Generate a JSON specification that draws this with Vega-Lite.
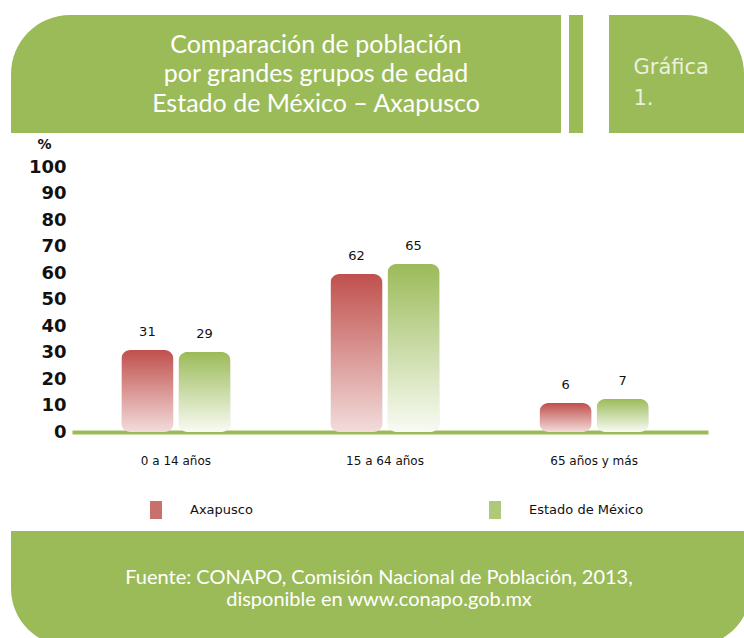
{
  "$schema": "https://vega.github.io/schema/vega-lite/v6.json",
  "padding": {"left": 11, "top": 15, "right": 0, "bottom": 0},
  "background": "white",
  "config": {"view": {"stroke": null}},
  "datasets": {
    "grupos": [
      {"grupo": "0 a 14 años", "serie": "Axapusco", "valor": 31, "barra": 30.9},
      {"grupo": "0 a 14 años", "serie": "Estado de México", "valor": 29, "barra": 30.2},
      {"grupo": "15 a 64 años", "serie": "Axapusco", "valor": 62, "barra": 59.6},
      {"grupo": "15 a 64 años", "serie": "Estado de México", "valor": 65, "barra": 63.4},
      {"grupo": "65 años y más", "serie": "Axapusco", "valor": 6, "barra": 10.9},
      {"grupo": "65 años y más", "serie": "Estado de México", "valor": 7, "barra": 12.5}
    ],
    "encabezado": [
      {"linea": 1, "texto": "Comparación de población"},
      {"linea": 2, "texto": "por grandes grupos de edad"},
      {"linea": 3, "texto": "Estado de México – Axapusco"}
    ],
    "grafica": [
      {"linea": 1, "texto": "Gráfica"},
      {"linea": 2, "texto": "1."}
    ],
    "fuente": [
      {"linea": 1, "texto": "Fuente: CONAPO, Comisión Nacional de Población, 2013,"},
      {"linea": 2, "texto": "disponible en www.conapo.gob.mx"}
    ],
    "panel": [{"panel": 1}]
  },
  "resolve": {"scale": {"color": "independent"}, "legend": {"color": "independent"}},
  "spacing": 12,
  "vconcat": [
    {
      "spacing": 4,
      "resolve": {"scale": {"color": "independent"}, "legend": {"color": "independent"}},
      "vconcat": [
        {
          "spacing": 26,
          "hconcat": [
            {
              "spacing": 8,
              "hconcat": [
                {
                  "width": 550,
                  "height": 118,
                  "layer": [
                    {"data": {"name": "panel"}, "mark": {"type": "rect", "color": "#9BBB59", "cornerRadiusTopLeft": 105}},
                    {
                      "data": {"name": "encabezado"},
                      "mark": {"type": "text", "color": "white", "font": "Lato", "fontSize": 25, "dx": 30},
                      "encoding": {
                        "y": {"field": "linea", "type": "ordinal", "axis": null, "scale": {"type": "point", "padding": 1}},
                        "text": {"field": "texto"}
                      }
                    }
                  ]
                },
                {
                  "width": 14,
                  "height": 118,
                  "data": {"name": "panel"},
                  "mark": {"type": "rect", "color": "#9BBB59"}
                }
              ]
            },
            {
              "width": 135,
              "height": 118,
              "layer": [
                {"data": {"name": "panel"}, "mark": {"type": "rect", "color": "#9BBB59", "cornerRadiusTopRight": 80}},
                {
                  "data": {"name": "grafica"},
                  "mark": {"type": "text", "color": "#EAF0DE", "font": "DejaVu Sans", "fontSize": 21, "align": "left", "dx": -43, "dy": 2},
                  "encoding": {
                    "y": {"field": "linea", "type": "quantitative", "axis": null, "scale": {"domain": [-0.645, 3.161], "reverse": true}},
                    "text": {"field": "texto"}
                  }
                }
              ]
            }
          ]
        },
        {
          "spacing": 0,
          "resolve": {"scale": {"color": "independent"}, "legend": {"color": "independent"}},
          "hconcat": [
            {
              "width": 17,
              "height": 10,
              "data": {"name": "panel"},
              "mark": {"type": "rect", "color": "white"}
            },
            {
              "width": 636,
              "height": 265,
              "data": {"name": "grupos"},
              "encoding": {
                "x": {
                  "field": "grupo", "type": "nominal", "sort": null, "title": null,
                  "scale": {"paddingInner": 0.478, "paddingOuter": 0.26, "align": 0.454},
                  "axis": {"labelAngle": 0, "labelFont": "DejaVu Sans", "labelFontSize": 12, "labelColor": "#111111", "labelPadding": 23, "ticks": false, "domainColor": "#9BBB59", "domainWidth": 4, "grid": false}
                },
                "xOffset": {"field": "serie", "type": "nominal", "sort": null, "scale": {"paddingInner": 0.088, "paddingOuter": 0}},
                "y": {
                  "field": "barra", "type": "quantitative",
                  "scale": {"domain": [0, 100], "nice": false},
                  "axis": {
                    "values": [0, 10, 20, 30, 40, 50, 60, 70, 80, 90, 100],
                    "title": "%", "titleAngle": 0, "titleX": -28, "titleY": -23, "titleAlign": "center", "titleBaseline": "middle",
                    "titleFont": "DejaVu Sans", "titleFontSize": 14, "titleFontWeight": "bold", "titleColor": "#111111",
                    "labelFont": "DejaVu Sans", "labelFontSize": 18, "labelFontWeight": "bold", "labelColor": "#111111",
                    "labelPadding": 6, "ticks": false, "domain": false, "grid": false
                  }
                }
              },
              "layer": [
                {
                  "mark": {"type": "bar", "cornerRadius": 9, "opacity": 0},
                  "encoding": {
                    "color": {
                      "field": "serie", "type": "nominal", "sort": null,
                      "scale": {"range": ["#C9706D", "#AFC97A"]},
                      "legend": {
                        "title": null, "orient": "none", "legendX": 75, "legendY": 334, "direction": "horizontal",
                        "symbolType": "M-0.67,-1H0.67V1H-0.67Z", "symbolSize": 324, "symbolStrokeWidth": 0, "symbolOpacity": 1,
                        "labelFont": "DejaVu Sans", "labelFontSize": 13, "labelColor": "#111111", "labelOffset": 25, "columnPadding": 233
                      }
                    }
                  }
                },
                {
                  "mark": {"type": "bar", "cornerRadius": 9, "color": "#9a9a9a", "opacity": 0.35, "xOffset": 1.5, "yOffset": 2}
                },
                {
                  "transform": [{"filter": "datum.serie === 'Axapusco'"}],
                  "mark": {"type": "bar", "cornerRadius": 9, "color": {"gradient": "linear", "x1": 0, "y1": 0, "x2": 0, "y2": 1, "stops": [{"offset": 0, "color": "#C0504D"}, {"offset": 1, "color": "#F2DCDB"}]}}
                },
                {
                  "transform": [{"filter": "datum.serie === 'Estado de México'"}],
                  "mark": {"type": "bar", "cornerRadius": 9, "color": {"gradient": "linear", "x1": 0, "y1": 0, "x2": 0, "y2": 1, "stops": [{"offset": 0, "color": "#9BBB59"}, {"offset": 1, "color": "#F9FBF4"}]}}
                },
                {
                  "mark": {"type": "text", "dy": -18, "font": "DejaVu Sans", "fontSize": 13, "color": "#111111"},
                  "encoding": {"text": {"field": "valor"}}
                }
              ]
            }
          ]
        }
      ]
    },
    {
      "width": 740,
      "height": 115,
      "layer": [
        {"data": {"name": "panel"}, "mark": {"type": "rect", "color": "#9BBB59", "cornerRadiusBottomLeft": 100, "cornerRadiusBottomRight": 100}},
        {
          "data": {"name": "fuente"},
          "mark": {"type": "text", "color": "white", "font": "Lato", "fontSize": 20, "dx": -2},
          "encoding": {
            "y": {"field": "linea", "type": "quantitative", "axis": null, "scale": {"domain": [-1.136, 4.09], "reverse": true}},
            "text": {"field": "texto"}
          }
        }
      ]
    }
  ]
}
